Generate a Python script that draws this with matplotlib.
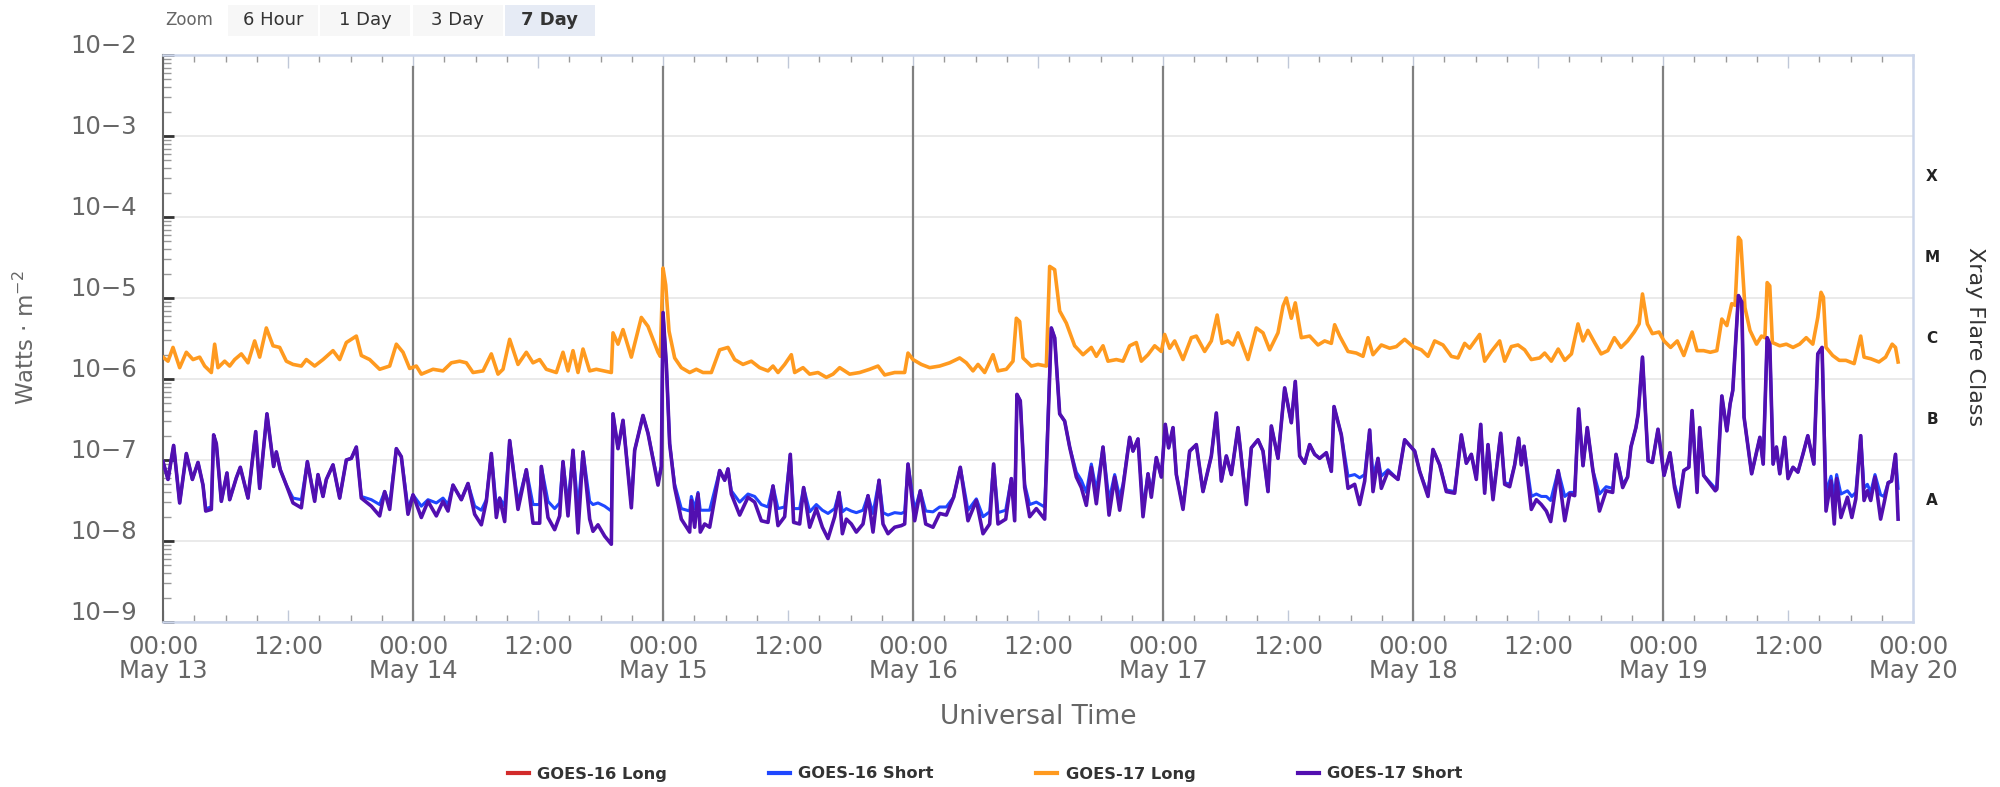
import numpy as np
import matplotlib.pyplot as plt
from matplotlib.patches import Rectangle
from matplotlib.transforms import ScaledTranslation, blended_transform_factory
from matplotlib.ticker import FixedLocator, LogLocator, NullFormatter

# hours since 13 May 00:00 UT, values are log10 of the flux in W/m^2
long_hours = [
    0.00, 0.48, 0.96, 1.60, 2.24, 2.88, 3.52, 4.00, 4.64, 4.96, 5.28, 5.92, 6.40, 6.88, 7.52, 8.16,
    8.80, 9.28, 9.92, 10.56, 11.20, 11.84, 12.48, 13.28, 13.76, 14.56, 15.36, 16.32, 16.96, 17.60,
    18.56, 19.04, 19.84, 20.80, 21.76, 22.40, 23.04, 23.68, 24.32, 24.80, 25.92, 26.88, 27.68, 28.48,
    29.12, 29.76, 30.72, 31.52, 32.16, 32.64, 33.28, 34.08, 34.88, 35.52, 36.16, 36.80, 37.76, 38.40,
    38.88, 39.36, 39.84, 40.32, 40.96, 41.60, 43.04, 43.20, 43.68, 44.16, 44.96, 45.92, 46.56, 47.52,
    47.74, 48.00, 48.26, 48.58, 49.12, 49.76, 50.56, 51.20, 51.84, 52.64, 53.44, 54.24, 54.88, 55.68,
    56.48, 57.28, 58.08, 58.56, 59.04, 59.68, 60.32, 60.64, 61.44, 62.08, 62.88, 63.68, 64.32, 64.96,
    65.92, 66.88, 67.84, 68.64, 69.28, 70.24, 71.20, 71.52, 72.00, 72.80, 73.60, 74.56, 75.52, 76.48,
    77.12, 77.76, 78.24, 78.88, 79.68, 80.16, 80.96, 81.60, 81.92, 82.24, 82.56, 83.36, 84.00, 84.80,
    85.12, 85.60, 86.08, 86.72, 87.52, 88.32, 89.12, 89.60, 90.24, 90.72, 91.52, 92.16, 92.80, 93.44,
    93.92, 94.56, 95.20, 95.84,
    96.16, 96.64, 97.12, 97.92, 98.72, 99.20, 100.00, 100.64, 101.20, 101.66, 102.24, 102.72, 103.20,
    104.16, 104.96, 105.60, 106.24, 107.04, 107.52, 107.84, 108.32, 108.70, 109.28, 110.08, 110.88,
    111.52, 112.16, 112.48, 112.96, 113.76, 114.56, 115.20, 115.68, 116.16, 116.96, 117.76, 118.40,
    119.20, 120.00, 120.80, 121.44, 122.08, 122.88, 123.68, 124.32, 124.96, 125.44, 126.40, 126.88,
    127.52, 128.32, 128.80, 129.44, 130.08, 130.72, 131.36, 132.16, 132.64, 133.28,
    133.94, 134.57, 135.21, 135.84, 136.32, 136.79, 137.43, 138.06, 138.70, 139.33, 139.97, 140.60,
    141.24, 141.71, 142.03, 142.50, 142.98, 143.62, 144.10, 144.73, 145.37, 146.00, 146.79, 147.27,
    147.90, 148.54, 149.17, 149.65, 150.13, 150.60, 150.92, 151.24, 151.46, 151.87, 152.35, 152.98,
    153.46, 153.78, 154.00, 154.25, 154.50, 155.21, 155.84, 156.48, 157.11, 157.75, 158.38, 158.86,
    159.17, 159.40, 159.65, 160.29, 160.92, 161.56, 162.35, 162.98, 163.30, 163.94, 164.73, 165.37,
    166.00, 166.32, 166.57,
]
g17_long_log = [
    -5.73, -5.78, -5.61, -5.86, -5.67, -5.76, -5.73, -5.84, -5.92, -5.57, -5.86, -5.78, -5.84, -5.76, -5.69, -5.80,
    -5.53, -5.73, -5.37, -5.59, -5.61, -5.78, -5.82, -5.84, -5.76, -5.84, -5.76, -5.65, -5.76, -5.55,
    -5.47, -5.71, -5.76, -5.88, -5.84, -5.57, -5.67, -5.87, -5.84, -5.94, -5.88, -5.90, -5.80, -5.78,
    -5.80, -5.92, -5.90, -5.69, -5.94, -5.88, -5.51, -5.82, -5.67, -5.80, -5.76, -5.88, -5.92, -5.67,
    -5.90, -5.65, -5.92, -5.63, -5.90, -5.88, -5.92, -5.43, -5.57, -5.39, -5.73, -5.24, -5.35, -5.67,
    -5.72, -4.63, -4.84, -5.41, -5.74, -5.86, -5.92, -5.88, -5.92, -5.92, -5.64, -5.61, -5.76, -5.82,
    -5.78, -5.86, -5.90, -5.84, -5.92, -5.82, -5.70, -5.92, -5.86, -5.94, -5.92, -5.98, -5.94, -5.86,
    -5.94, -5.92, -5.88, -5.84, -5.95, -5.92, -5.92, -5.68, -5.76, -5.82, -5.86, -5.84, -5.80, -5.74,
    -5.80, -5.90, -5.82, -5.92, -5.70, -5.90, -5.88, -5.78, -5.25, -5.29, -5.74, -5.84, -5.82, -5.84,
    -4.61, -4.65, -5.16, -5.31, -5.59, -5.70, -5.61, -5.72, -5.59, -5.78, -5.76, -5.78, -5.59, -5.55,
    -5.78, -5.70, -5.59, -5.66,
    -5.45, -5.62, -5.53, -5.76, -5.49, -5.47, -5.66, -5.53, -5.21, -5.56, -5.53, -5.58, -5.43,
    -5.76, -5.37, -5.43, -5.64, -5.43, -5.10, -5.00, -5.25, -5.06, -5.49, -5.47, -5.58,
    -5.53, -5.56, -5.33, -5.47, -5.66, -5.68, -5.72, -5.49, -5.70, -5.58, -5.62, -5.60,
    -5.51, -5.60, -5.64, -5.72, -5.53, -5.58, -5.72, -5.74, -5.56, -5.62, -5.45, -5.78,
    -5.66, -5.53, -5.78, -5.60, -5.58, -5.64, -5.76, -5.74, -5.68, -5.78,
    -5.63, -5.77, -5.69, -5.32, -5.53, -5.40, -5.55, -5.69, -5.65, -5.49, -5.61, -5.53,
    -5.42, -5.32, -4.95, -5.32, -5.44, -5.42, -5.53, -5.61, -5.53, -5.71, -5.42, -5.65,
    -5.65, -5.67, -5.65, -5.26, -5.34, -5.07, -5.09, -4.25, -4.29, -5.12, -5.40, -5.57,
    -5.47, -5.49, -4.81, -4.85, -5.55, -5.59, -5.57, -5.61, -5.57, -5.49, -5.57, -5.24,
    -4.93, -4.99, -5.61, -5.71, -5.77, -5.77, -5.81, -5.47, -5.73, -5.75, -5.79, -5.73,
    -5.57, -5.61, -5.79,
]

short_hours = [
    0.00, 0.48, 1.02, 1.60, 2.24, 2.82, 3.36, 3.84, 4.10, 4.64, 4.86, 5.12, 5.60, 6.14, 6.40, 7.04,
    7.42, 8.16, 8.90, 9.28, 9.98, 10.62, 10.88, 11.26, 11.84, 12.48, 13.28, 13.86, 14.56, 14.88,
    15.36, 15.68, 16.32, 16.96, 17.60, 18.08, 18.56, 19.04, 20.00, 20.80, 21.28, 21.76, 22.40, 22.88,
    23.52, 24.00, 24.80, 25.44, 26.24, 26.88, 27.36, 27.84, 28.64, 29.28, 29.92, 30.56, 31.04, 31.52,
    32.00, 32.32, 32.80, 33.28, 34.08, 34.88, 35.52, 36.16, 36.32, 36.96, 37.60, 38.08, 38.40, 38.88,
    39.36, 39.84, 40.32, 40.96, 41.28, 41.76, 42.40, 43.04, 43.20, 43.68, 44.16, 44.96, 45.28, 46.08,
    46.56, 47.52, 47.84,
    48.00, 48.32, 48.64, 49.12, 49.76, 50.56, 50.72, 51.04, 51.36, 51.58, 52.00, 52.48, 53.44, 53.92,
    54.24, 54.56, 55.36, 56.16, 56.80, 57.44, 58.08, 58.56, 59.04, 59.68, 60.22, 60.54, 61.12, 61.50,
    62.08, 62.72, 63.30, 63.84, 64.48, 64.90, 65.22, 65.60, 66.08, 66.56, 67.20, 67.68, 68.16, 68.74,
    69.12, 69.60, 70.24, 70.88, 71.20, 71.52, 72.16, 72.70, 73.22, 73.92, 74.56, 75.20, 75.90, 76.54,
    77.28, 78.08, 78.72, 79.36, 79.74, 80.16, 80.90, 81.44, 81.76, 81.98, 82.30, 82.72, 83.20, 83.84,
    84.64, 85.28, 85.60, 86.08, 86.56, 87.04, 87.68, 88.16, 88.64, 89.12, 89.60, 90.24, 90.82, 91.36,
    91.84, 92.16, 92.80, 93.12, 93.60, 94.08, 94.56, 94.88, 95.36, 95.84,
    96.22, 96.54, 96.96, 97.28, 97.92, 98.56, 99.20, 99.84, 100.64, 101.12, 101.60, 102.08, 102.56,
    103.20, 104.00, 104.48, 105.12, 105.60, 106.08, 106.40, 107.04, 107.68, 108.32, 108.70, 109.12,
    109.60, 110.08, 110.56, 111.04, 111.68, 112.16, 112.42, 113.12, 113.76, 114.40, 114.88, 115.36,
    115.84, 116.16, 116.64, 116.96, 117.60, 118.56, 119.20, 120.16, 120.64, 121.44, 121.92, 122.56,
    123.20, 124.00, 124.64, 125.12, 125.60, 126.08, 126.50, 126.88, 127.20, 127.68, 128.42, 128.80,
    129.28, 129.76, 130.14, 130.40, 130.66, 131.36, 131.84, 132.32, 132.80, 133.22,
    133.94, 134.57, 135.05, 135.52, 135.90, 136.32, 136.73, 137.27, 137.90, 138.54, 139.17, 139.49,
    140.13, 140.60, 140.92, 141.40, 141.62, 142.03, 142.57, 142.98, 143.52, 144.10, 144.67, 145.11,
    145.52, 146.00, 146.48, 146.79, 147.27, 147.52, 147.90, 148.54, 149.02, 149.17, 149.65, 150.13,
    150.44, 150.70, 151.24, 151.56, 151.78, 152.51, 153.30, 153.62, 154.00, 154.25, 154.57, 154.89,
    155.21, 155.68, 156.00, 156.48, 156.95, 157.43, 157.90, 158.48, 158.86, 159.27, 159.65, 160.13,
    160.44, 160.67, 161.08, 161.71, 162.13, 162.51, 162.98, 163.30, 163.62, 163.94, 164.35, 164.89,
    165.21, 165.62, 165.94, 166.32, 166.57,
]
g17_short_log = [
    -7.02, -7.24, -6.82, -7.53, -6.92, -7.24, -7.03, -7.31, -7.63, -7.61, -6.69, -6.80, -7.51, -7.16, -7.49, -7.22,
    -7.09, -7.47, -6.65, -7.35, -6.43, -7.08, -6.90, -7.12, -7.31, -7.53, -7.59, -7.02, -7.51, -7.18,
    -7.45, -7.24, -7.06, -7.47, -7.00, -6.98, -6.84, -7.47, -7.57, -7.69, -7.39, -7.61, -6.86, -6.96,
    -7.67, -7.43, -7.71, -7.51, -7.69, -7.51, -7.63, -7.31, -7.49, -7.29, -7.67, -7.80, -7.51, -6.92,
    -7.71, -7.47, -7.76, -6.76, -7.61, -7.12, -7.78, -7.78, -7.08, -7.71, -7.86, -7.69, -7.02, -7.69,
    -6.88, -7.90, -6.90, -7.73, -7.88, -7.80, -7.94, -8.04, -6.43, -6.86, -6.51, -7.59, -6.88, -6.45,
    -6.67, -7.31, -7.08,
    -5.18, -5.82, -6.80, -7.34, -7.73, -7.89, -7.50, -7.83, -7.42, -7.89, -7.79, -7.83, -7.13, -7.25,
    -7.11, -7.42, -7.68, -7.46, -7.52, -7.75, -7.77, -7.32, -7.81, -7.70, -6.93, -7.77, -7.79, -7.34,
    -7.83, -7.60, -7.83, -7.97, -7.70, -7.40, -7.91, -7.73, -7.79, -7.89, -7.79, -7.44, -7.89, -7.25,
    -7.79, -7.91, -7.83, -7.81, -7.79, -7.05, -7.75, -7.38, -7.79, -7.83, -7.66, -7.68, -7.46, -7.09,
    -7.75, -7.50, -7.91, -7.79, -7.05, -7.79, -7.73, -7.23, -7.75, -6.19, -6.27, -7.34, -7.70, -7.60,
    -7.73, -5.37, -5.49, -6.43, -6.52, -6.84, -7.21, -7.34, -7.56, -7.09, -7.54, -6.84, -7.68, -7.21,
    -7.62, -7.34, -6.72, -6.89, -6.74, -7.70, -7.17, -7.46, -6.97, -7.21,
    -6.56, -6.85, -6.60, -7.18, -7.61, -6.89, -6.81, -7.39, -6.95, -6.42, -7.26, -6.95, -7.18,
    -6.60, -7.55, -6.85, -6.75, -6.89, -7.39, -6.58, -6.98, -6.11, -6.54, -6.03, -6.95,
    -7.04, -6.81, -6.93, -6.98, -6.91, -7.14, -6.34, -6.69, -7.35, -7.30, -7.55, -7.26,
    -6.63, -7.39, -6.98, -7.35, -7.14, -7.24, -6.75, -6.89, -7.14, -7.45, -6.87, -7.06,
    -7.39, -7.41, -6.69, -7.04, -6.93, -7.24, -6.56, -7.41, -6.81, -7.49, -6.67, -7.30,
    -7.33, -7.06, -6.73, -7.06, -6.83, -7.61, -7.49, -7.55, -7.63, -7.76,
    -7.13, -7.75, -7.42, -7.44, -6.37, -7.07, -6.60, -7.13, -7.63, -7.38, -7.40, -6.93,
    -7.34, -7.21, -6.84, -6.60, -6.43, -5.73, -7.01, -7.03, -6.62, -7.19, -6.91, -7.34,
    -7.58, -7.13, -7.09, -6.39, -7.40, -6.60, -7.19, -7.30, -7.38, -7.36, -6.21, -6.64,
    -6.31, -6.14, -4.97, -5.05, -6.47, -7.17, -6.72, -7.05, -5.49, -5.57, -7.05, -6.84,
    -7.17, -6.72, -7.23, -7.09, -7.15, -6.93, -6.70, -7.05, -5.69, -5.61, -7.63, -7.26,
    -7.79, -7.23, -7.71, -7.46, -7.71, -7.48, -6.70, -7.50, -7.38, -7.50, -7.21, -7.73,
    -7.54, -7.28, -7.26, -6.93, -7.73,
]
g16_short_log = [
    -7.02, -7.24, -6.82, -7.53, -6.92, -7.24, -7.03, -7.31, -7.60, -7.58, -6.69, -6.80, -7.51, -7.16, -7.49, -7.22,
    -7.09, -7.47, -6.65, -7.35, -6.43, -7.08, -6.90, -7.12, -7.31, -7.47, -7.49, -7.02, -7.49, -7.18,
    -7.45, -7.24, -7.06, -7.47, -7.00, -6.98, -6.84, -7.45, -7.49, -7.55, -7.39, -7.55, -6.86, -6.96,
    -7.60, -7.43, -7.57, -7.49, -7.53, -7.47, -7.55, -7.31, -7.49, -7.29, -7.57, -7.62, -7.49, -6.92,
    -7.57, -7.47, -7.57, -6.76, -7.53, -7.12, -7.55, -7.55, -7.08, -7.51, -7.60, -7.53, -7.02, -7.55,
    -6.88, -7.60, -6.90, -7.51, -7.55, -7.53, -7.57, -7.63, -6.43, -6.86, -6.51, -7.55, -6.88, -6.45,
    -6.67, -7.28, -7.08,
    -5.18, -5.82, -6.80, -7.30, -7.60, -7.63, -7.45, -7.60, -7.40, -7.62, -7.62, -7.62, -7.13, -7.25,
    -7.11, -7.38, -7.52, -7.42, -7.45, -7.55, -7.58, -7.32, -7.60, -7.58, -6.93, -7.60, -7.60, -7.34,
    -7.64, -7.55, -7.62, -7.66, -7.60, -7.40, -7.64, -7.60, -7.63, -7.65, -7.62, -7.44, -7.66, -7.25,
    -7.65, -7.68, -7.65, -7.66, -7.64, -7.05, -7.62, -7.38, -7.63, -7.64, -7.58, -7.58, -7.46, -7.09,
    -7.62, -7.48, -7.70, -7.64, -7.05, -7.65, -7.62, -7.23, -7.62, -6.19, -6.27, -7.30, -7.55, -7.52,
    -7.58, -5.37, -5.49, -6.43, -6.52, -6.84, -7.15, -7.25, -7.40, -7.05, -7.38, -6.84, -7.50, -7.18,
    -7.46, -7.30, -6.72, -6.89, -6.74, -7.60, -7.17, -7.40, -6.97, -7.21,
    -6.56, -6.85, -6.60, -7.18, -7.58, -6.89, -6.81, -7.39, -6.95, -6.42, -7.26, -6.95, -7.18,
    -6.60, -7.52, -6.85, -6.75, -6.89, -7.39, -6.58, -6.98, -6.11, -6.54, -6.03, -6.95,
    -7.04, -6.81, -6.93, -6.98, -6.91, -7.14, -6.34, -6.69, -7.20, -7.18, -7.22, -7.18,
    -6.63, -7.20, -6.98, -7.20, -7.12, -7.24, -6.75, -6.89, -7.14, -7.42, -6.87, -7.06,
    -7.37, -7.39, -6.69, -7.04, -6.93, -7.22, -6.56, -7.38, -6.81, -7.45, -6.67, -7.28,
    -7.30, -7.06, -6.73, -7.06, -6.83, -7.45, -7.42, -7.45, -7.45, -7.50,
    -7.13, -7.45, -7.40, -7.40, -6.37, -7.07, -6.60, -7.13, -7.42, -7.33, -7.35, -6.93,
    -7.30, -7.21, -6.84, -6.60, -6.43, -5.73, -7.01, -7.03, -6.62, -7.19, -6.91, -7.30,
    -7.50, -7.13, -7.09, -6.39, -7.35, -6.60, -7.19, -7.28, -7.35, -7.34, -6.21, -6.64,
    -6.31, -6.14, -4.97, -5.05, -6.47, -7.17, -6.72, -7.05, -5.49, -5.57, -7.05, -6.84,
    -7.17, -6.72, -7.20, -7.09, -7.15, -6.93, -6.70, -7.05, -5.69, -5.61, -7.40, -7.20,
    -7.45, -7.18, -7.42, -7.38, -7.45, -7.40, -6.70, -7.35, -7.30, -7.40, -7.18, -7.43,
    -7.45, -7.28, -7.26, -6.93, -7.35,
]

series_names = ['GOES-16 Long', 'GOES-16 Short', 'GOES-17 Long', 'GOES-17 Short']
series_colors = ['#d22b2b', '#1f47ff', '#ff9a1f', '#520fb0']

ytick_exps = [-2, -3, -4, -5, -6, -7, -8, -9]
ytick_labels = ['10−2', '10−3', '10−4', '10−5', '10−6', '10−7', '10−8', '10−9']
xtick_hours = list(range(0, 169, 12))
xtick_labels = ['00:00\nMay 13', '12:00', '00:00\nMay 14', '12:00', '00:00\nMay 15', '12:00',
                '00:00\nMay 16', '12:00', '00:00\nMay 17', '12:00', '00:00\nMay 18', '12:00',
                '00:00\nMay 19', '12:00', '00:00\nMay 20']
day_hours = [24, 48, 72, 96, 120, 144]
flare_classes = ['X', 'M', 'C', 'B', 'A']
flare_exps = [-3.5, -4.5, -5.5, -6.5, -7.5]
zoom_buttons = ['6 Hour', '1 Day', '3 Day', '7 Day']

W, H = 2000, 787
fig = plt.figure(figsize=(W / 100, H / 100), dpi=100)
ax = fig.add_axes([163 / W, 1 - 622 / H, 1750 / W, 567 / H])

ax.plot([], [], color=series_colors[0], lw=3, label=series_names[0])
ax.plot(short_hours, 10 ** np.array(g16_short_log), color=series_colors[1], lw=2.2,
        label=series_names[1], zorder=3)
ax.plot(long_hours, 10 ** np.array(g17_long_log), color=series_colors[2], lw=2.6,
        label=series_names[2], zorder=4)
ax.plot(short_hours, 10 ** np.array(g17_short_log), color=series_colors[3], lw=2.6,
        label=series_names[3], zorder=4)

ax.set_yscale('log')
ax.set_ylim(1e-9, 1e-2)
ax.set_xlim(0, 168)

for h in day_hours:
    ax.axvline(h, ymin=0, ymax=0.979, color='#808080', lw=1.6, zorder=2)

ax.set_yticks([10.0 ** e for e in ytick_exps])
ax.set_yticklabels(ytick_labels)
ax.yaxis.set_minor_locator(LogLocator(base=10, subs=np.arange(2, 10), numticks=20))
ax.yaxis.set_minor_formatter(NullFormatter())
ax.tick_params(axis='y', which='major', direction='in', length=8, width=2, color='#333333',
               pad=19, labelsize=17.5, labelcolor='#666666')
ax.tick_params(axis='y', which='minor', direction='in', length=6, width=1, color='#999999')
for lab in ax.get_yticklabels():
    lab.set_verticalalignment('baseline')
    lab.set_transform(lab.get_transform() + ScaledTranslation(0, 2 / 100, fig.dpi_scale_trans))

ax.set_xticks(xtick_hours)
ax.set_xticklabels(xtick_labels, linespacing=1.05)
ax.xaxis.set_minor_locator(FixedLocator(np.arange(0, 169, 3)))
ax.tick_params(axis='x', which='major', direction='in', length=9, width=1, color='#c0c8d8',
               top=True, pad=9, labelsize=17.5, labelcolor='#666666')
ax.tick_params(axis='x', which='minor', direction='in', length=5, width=1, color='#999999',
               top=True)

ax.yaxis.grid(True, which='major', color='#e6e6e6', lw=1.2)
ax.set_axisbelow(True)

ax.spines['left'].set_color('#666666')
ax.spines['left'].set_linewidth(1.5)
for s in ['top', 'right', 'bottom']:
    ax.spines[s].set_color('#ccd6eb')
    ax.spines[s].set_linewidth(1.8)

# flare class labels on the right
trans = blended_transform_factory(ax.transAxes, ax.transData)
for c, e in zip(flare_classes, flare_exps):
    ax.text(1.0109, 10 ** e, c, transform=trans, ha='center', va='center',
            fontsize=11, fontweight='bold', color='#222222')

fig.text(26 / W, 1 - 338 / H, 'Watts · m$^{-2}$', rotation=90, ha='center', va='center',
         fontsize=16.5, color='#666666')
fig.text(1975 / W, 1 - 337 / H, 'Xray Flare Class', rotation=270, ha='center', va='center',
         fontsize=16, color='#333333')
fig.text(1038 / W, 1 - 717 / H, 'Universal Time', ha='center', va='center',
         fontsize=19, color='#666666')

# zoom buttons
fig.text(165 / W, 1 - 20 / H, 'Zoom', ha='left', va='center', fontsize=12, color='#666666')
for i, name in enumerate(zoom_buttons):
    x0 = 228 + i * 92.3
    selected = name == '7 Day'
    fig.add_artist(Rectangle((x0 / W, 1 - 36 / H), 90 / W, 31 / H, transform=fig.transFigure,
                             facecolor='#e6ebf5' if selected else '#f7f7f7', edgecolor='none'))
    fig.text((x0 + 45) / W, 1 - 20 / H, name, ha='center', va='center', fontsize=13,
             color='#333333', fontweight='bold' if selected else 'normal')

handles, labels = ax.get_legend_handles_labels()
leg = fig.legend(handles, labels, loc='center', bbox_to_anchor=(0.4925, 1 - 774 / H), ncol=4,
                 frameon=False, prop={'weight': 'bold', 'size': 11.7}, labelcolor='#333333',
                 handlelength=1.3, handletextpad=0.5, columnspacing=6.3)
for line in leg.get_lines():
    line.set_linewidth(3)

fig.savefig('out.png', dpi=100, facecolor='white')
